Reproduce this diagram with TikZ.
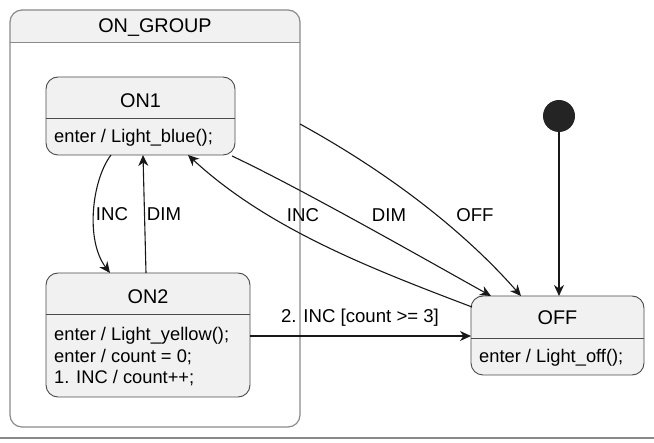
\documentclass[tikz,border=0pt]{standalone}
\usepackage{fontspec}
\setmainfont{Liberation Sans}
\usetikzlibrary{arrows.meta,calc}
\definecolor{stfill}{HTML}{F1F1F1}
\definecolor{stline}{HTML}{4A4A4A}
\definecolor{grpline}{HTML}{8A8A8A}
\definecolor{arrline}{HTML}{181818}
\tikzset{
  stbox/.style={draw=stline, fill=stfill, rounded corners=12pt, line width=0.9pt, inner sep=0pt, outer sep=0pt, anchor=north west},
  divider/.style={draw=stline, line width=0.9pt},
  ttl/.style={font=\fontsize{19.8}{23}\selectfont, inner sep=0pt},
  bodytxt/.style={font=\fontsize{18.3}{21.5}\selectfont, align=left, anchor=west, inner sep=0pt},
  lbl/.style={font=\fontsize{18.6}{21}\selectfont, inner sep=0pt},
  arr/.style={draw=arrline, line width=1.1pt, -{Stealth[length=11pt,width=10pt,inset=3.5pt]}},
}
\begin{document}
\begin{tikzpicture}[x=1pt,y=-1pt]
\useasboundingbox (0,0) rectangle (654,443);
% group
\node[draw=none, rounded corners=12pt, minimum width=290, minimum height=417, inner sep=0pt, outer sep=0pt, anchor=north west] (grp) at (10,10) {};
\begin{scope}
  \clip (10,10) rectangle (300,43);
  \fill[stfill, rounded corners=12pt] (grp.north west) rectangle (grp.south east);
\end{scope}
\draw[grpline, line width=1.2pt, rounded corners=12pt] (grp.north west) rectangle (grp.south east);
\draw[grpline, line width=1.0pt] ($(grp.north west)+(0,33)$) -- ($(grp.north east)+(0,33)$);
\node[ttl] (grpt) at ($(grp.north)+(0,18)$) {ON\_GROUP};
% ON1
\node[stbox, minimum width=189, minimum height=78] (on1) at (46,77) {};
\draw[divider] ($(on1.north west)+(0,41)$) -- ($(on1.north east)+(0,41)$);
\node[ttl] (on1t) at ($(on1.north)+(0,24)$) {ON1};
\node[bodytxt] (on1b) at ($(on1.north west)+(8,61)$) {enter / Light\_blue();};
% ON2
\node[stbox, minimum width=204, minimum height=124] (on2) at (46,273) {};
\draw[divider] ($(on2.north west)+(0,41)$) -- ($(on2.north east)+(0,41)$);
\node[ttl] (on2t) at ($(on2.north)+(0,24)$) {ON2};
\node[bodytxt] (on2b) at ($(on2.north west)+(8,84)$) {enter / Light\_yellow();\\enter / count = 0;\\1. INC / count++;};
% OFF
\node[stbox, minimum width=173, minimum height=79] (off) at (471,296) {};
\draw[divider] ($(off.north west)+(0,42)$) -- ($(off.north east)+(0,42)$);
\node[ttl] (offt) at ($(off.north)+(0,22)$) {OFF};
\node[bodytxt] (offb) at ($(off.north west)+(8,62)$) {enter / Light\_off();};
% initial
\node[circle, fill=arrline!95, minimum size=32, inner sep=0pt, outer sep=0pt] (init) at (559,116) {};
% connectors
\draw[arr] (init.south) -- (init.south |- off.north);
\draw[arr] ($(on1.south west)+(65,0)$) .. controls (92,180) and (85,240) .. ($(on2.north west)+(64,0)$);
\node[lbl] (l1) at (112,214) {INC};
\draw[arr] ($(on2.north west)+(100,0)$) -- ($(on1.south west)+(97,0)$);
\node[lbl] (l2) at (164,214) {DIM};
\draw[arr] ($(off.north west)+(1,11)$) .. controls (372,269) and (268,229) .. ($(on1.south west)+(142,0)$);
\node[lbl] (l3) at (303,215) {INC};
\draw[arr] ($(on1.south east)+(-3,1)$) .. controls (300,188) and (430,262) .. ($(off.north west)+(20,0)$);
\node[lbl] (l4) at (389,215) {DIM};
\draw[arr] ($(grp.north east)+(0,114)$) .. controls (400,179) and (471,239) .. ($(off.north west)+(50,0)$);
\node[lbl] (l5) at (475,215) {OFF};
\draw[arr] ($(on2.north east)+(0,63)$) -- ($(off.north west)+(0,40)$);
\node[lbl] (l6) at (360,318) {2. INC [count >= 3]};
% bottom rule
\draw[grpline, line width=1.5pt] (0,438) -- (654,438);
\end{tikzpicture}
\end{document}
